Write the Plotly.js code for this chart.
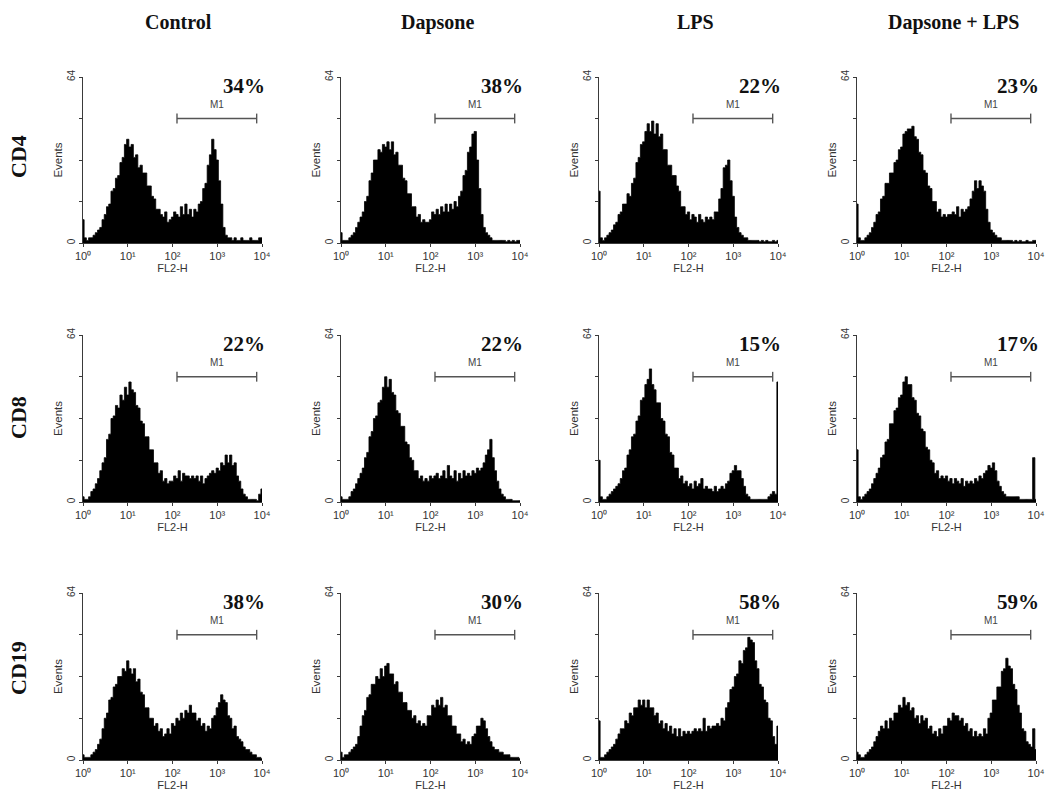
<!DOCTYPE html>
<html>
<head>
<meta charset="utf-8">
<script src="https://cdn.plot.ly/plotly-3.0.1.min.js"></script>
<style>html,body{margin:0;padding:0;background:#fff;}#chart{width:1050px;height:793px;}</style>
</head>
<body>
<div id="chart"></div>
<script>
// ---- data (counts per 0.05-decade channel, from 10^0 to 10^4) ----
const columns = ["Control", "Dapsone", "LPS", "Dapsone + LPS"];
const rowsLbl = ["CD4", "CD8", "CD19"];
const xTickVals = [1, 10, 100, 1000, 10000];
const xTickText = ["10\u2070", "10\u00B9", "10\u00B2", "10\u00B3", "10\u2074"];
const yTickVals = [0, 64];
const yTickText = ["0", "64"];
const yMinorTicks = [16, 32, 48];
const gateM1 = [126, 7600];
const percents = [["34%", "38%", "22%", "23%"], ["22%", "22%", "15%", "17%"], ["38%", "30%", "58%", "59%"]];

const cd4Control = [9,2,1,2,2,3,4,5,6,9, 11,14,15,20,21,25,26,31,33,38, 40,37,38,33,34,29,30,27,27,22, 22,18,17,13,13,11,10,12,8,9, 10,12,11,10,14,11,15,11,13,10, 13,12,15,16,21,23,30,34,40,36, 32,24,15,6,3,2,2,1,2,1, 1,2,1,1,1,2,1,1,1,2, 2];
const cd4Dapsone = [4,1,1,1,2,3,4,6,8,10, 12,16,18,24,27,32,32,36,35,38, 37,39,36,39,34,35,30,30,25,24, 19,19,14,14,10,11,8,9,8,8, 9,12,11,13,11,14,12,15,12,15, 13,16,14,18,20,26,28,35,37,42, 43,32,21,11,6,4,3,2,1,1, 1,1,1,1,0.5,1,0.5,1,0.5,1, 1];
const cd4LPS = [20,2,1,2,3,4,5,7,8,11, 12,15,15,19,18,23,25,31,33,38, 39,43,46,43,47,42,46,41,42,36, 36,30,30,26,26,22,20,14,14,11, 12,9,11,10,8,11,9,8,10,9, 10,9,12,12,17,21,29,30,32,24, 18,10,6,4,3,2,2,1,1,1, 1,1,0.5,1,0.5,1,0.5,0.5,1,0.5, 1];
const cd4DapLPS = [15,2,1,1,2,3,4,6,8,11, 12,17,18,23,23,27,27,31,32,36, 37,42,43,44,44,45,41,40,35,34, 28,27,22,21,16,16,12,13,10,11, 10,11,11,12,11,14,10,13,12,13, 14,17,20,24,21,24,22,20,13,8, 5,4,3,2,2,1,1,1,1,1, 0.5,1,0.5,1,0.5,0.5,1,0.5,0.5,1, 1];

const cd8Control = [2,1,1,2,4,5,7,9,12,15, 17,24,26,32,33,37,36,41,39,44, 41,46,43,42,37,36,31,30,25,25, 20,20,15,15,11,12,8,9,7,8, 8,10,9,12,8,11,10,10,9,10, 9,10,8,10,7,9,10,11,12,11, 13,12,15,14,18,15,18,14,15,10, 8,5,3,2,1,1,1,1,0.5,3, 5];
const cd8Dapsone = [2,1,1,1,2,4,5,7,9,11, 13,17,19,25,27,32,33,38,39,44, 48,44,47,42,41,35,34,29,29,23, 22,17,16,12,12,9,10,8,9,8, 10,9,10,11,9,10,12,9,14,10, 9,12,8,11,9,12,10,11,10,12, 11,13,12,13,15,18,20,24,17,12, 8,5,3,2,1,1,1,0.5,0.5,0.5, 0.5];
const cd8LPS = [16,2,1,1,2,3,4,5,6,7, 9,12,13,18,20,25,26,31,33,39, 40,45,47,51,45,43,38,38,32,31, 26,25,19,18,13,13,9,10,7,8, 6,7,5,8,6,7,9,5,6,5, 5,4,6,4,5,6,5,7,8,11, 12,14,12,12,9,6,3,2,1,1, 1,1,1,1,1,1,2,3,4,3, 46];
const cd8DapLPS = [20,2,1,2,3,4,5,7,9,11, 13,17,18,23,24,30,30,35,36,40, 41,46,48,45,45,40,39,34,33,28, 27,21,20,16,15,11,12,9,10,9, 10,8,9,7,9,8,7,9,6,8, 7,8,7,9,8,10,9,11,12,14, 13,15,12,8,6,4,3,2,2,2, 2,2,2,1,1,1,1,1,1,17, 1];

const cd19Control = [2,1,1,1,2,3,4,6,8,12, 16,18,23,24,28,29,32,32,35,34, 38,35,33,35,30,31,26,25,20,20, 16,16,13,14,11,12,9,10,12,10, 14,13,16,15,18,16,19,18,21,18, 18,15,16,13,14,11,13,12,16,17, 20,22,25,23,22,17,16,12,13,9, 8,7,5,4,4,3,2,2,1,1, 0.5];
const cd19Dapsone = [3,1,2,2,3,4,5,6,9,13, 17,19,24,25,29,29,32,31,35,32, 36,37,33,33,29,30,26,26,22,22, 19,19,16,17,14,15,13,14,13,17, 17,21,20,23,21,24,20,21,17,17, 13,13,10,10,7,8,6,7,6,9, 10,13,13,16,15,12,9,7,5,4, 4,3,3,2,2,2,1,1,1,1, 0.5];
const cd19LPS = [15,1,1,2,3,4,5,6,8,10, 12,12,15,14,18,17,20,20,23,21, 23,20,23,20,20,17,18,14,15,12, 14,11,13,10,12,9,12,9,11,10, 11,10,11,12,11,12,11,16,11,13, 12,13,13,14,13,16,15,20,22,27, 28,32,33,38,37,42,43,47,46,45, 38,35,29,28,23,22,16,15,9,6, 13];
const cd19DapLPS = [3,2,1,1,2,3,4,5,7,9, 11,13,12,15,12,16,15,18,18,21, 20,24,21,22,19,20,16,17,14,17, 15,16,12,13,10,11,9,12,10,13, 13,16,15,18,17,17,15,16,13,14, 11,12,9,11,9,10,9,12,10,16, 18,23,23,28,28,34,35,39,36,35, 29,27,21,18,12,11,7,6,5,12, 4];

const histData = [
  [cd4Control, cd4Dapsone, cd4LPS, cd4DapLPS],
  [cd8Control, cd8Dapsone, cd8LPS, cd8DapLPS],
  [cd19Control, cd19Dapsone, cd19LPS, cd19DapLPS]
];
const channelStep = 0.05;

// ---- layout geometry (pixels) ----
const W = 1050, H = 793;
const colX = [[83, 262], [341, 520], [599, 778], [857, 1036]];
const rowY = [[77, 243], [335, 502], [593, 760]];

const traces = [];
const layout = {
  width: W, height: H,
  margin: {l: 0, r: 0, t: 0, b: 0},
  paper_bgcolor: "#fff", plot_bgcolor: "#fff",
  showlegend: false,
  annotations: [],
  font: {family: "Liberation Sans, Arial, sans-serif", color: "#333"}
};

const sans = "Liberation Sans, Arial, sans-serif";
const serif = "Liberation Serif, Times New Roman, serif";
const axisCol = "#3a3a3a";

let k = 0;
for (let r = 0; r < 3; r++) {
  for (let c = 0; c < 4; c++) {
    k++;
    const xa = k === 1 ? "x" : "x" + k;
    const ya = k === 1 ? "y" : "y" + k;
    const vals = histData[r][c];
    const xs = vals.map((v, i) => Math.pow(10, i * channelStep));
    traces.push({
      type: "scatter", mode: "lines", x: xs, y: vals, xaxis: xa, yaxis: ya,
      line: {shape: "hvh", color: "#000", width: 0.8},
      fill: "tozeroy", fillcolor: "#000", hoverinfo: "skip"
    });
    // M1 gate bar
    traces.push({
      type: "scatter", mode: "lines+markers", x: gateM1, y: [48, 48], xaxis: xa, yaxis: ya,
      line: {color: "#555", width: 1.6},
      marker: {symbol: "line-ns-open", size: 7, color: "#555", line: {width: 1.4, color: "#555"}},
      hoverinfo: "skip", cliponaxis: false
    });
    traces.push({
      type: "scatter", mode: "text", x: [Math.sqrt(gateM1[0] * gateM1[1])], y: [53], text: ["M1"],
      textfont: {family: sans, size: 10, color: "#444"}, xaxis: xa, yaxis: ya, hoverinfo: "skip", cliponaxis: false
    });

    const xd = [colX[c][0] / W, colX[c][1] / W];
    const yd = [1 - rowY[r][1] / H, 1 - rowY[r][0] / H];
    layout["xaxis" + (k === 1 ? "" : k)] = {
      domain: xd, anchor: ya, type: "log", range: [0, 4],
      tickmode: "array", tickvals: xTickVals, ticktext: xTickText, ticks: "outside", ticklen: 3, tickwidth: 1, tickcolor: axisCol,
      showline: true, linecolor: axisCol, linewidth: 1.2, showgrid: false, zeroline: false,
      tickfont: {family: sans, size: 11, color: "#333"},
      title: {text: "FL2-H", font: {family: sans, size: 11, color: "#333"}, standoff: 2}
    };
    layout["yaxis" + (k === 1 ? "" : k)] = {
      domain: yd, anchor: xa, range: [0, 64],
      tickmode: "array", tickvals: yTickVals, ticktext: yTickText, tickangle: -90, ticks: "outside", ticklen: 3, tickwidth: 1, tickcolor: axisCol,
      minor: {tickmode: "array", tickvals: yMinorTicks, ticks: "outside", ticklen: 3, tickwidth: 1, tickcolor: axisCol, showgrid: false},
      showline: true, linecolor: axisCol, linewidth: 1.4, showgrid: false, zeroline: false,
      tickfont: {family: sans, size: 10, color: "#333"},
      title: {text: "Events", font: {family: sans, size: 11.5, color: "#333"}, standoff: 0}
    };
    // percentage label
    layout.annotations.push({
      xref: "paper", yref: "paper", x: (colX[c][1] + 5) / W, y: 1 - (rowY[r][0] + 9) / H,
      xanchor: "right", yanchor: "middle", showarrow: false, text: "<b>" + percents[r][c] + "</b>",
      font: {family: serif, size: 21, color: "#111"}
    });
  }
}
// column titles
const colCenters = [178, 437, 695, 953];
columns.forEach((t, i) => layout.annotations.push({
  xref: "paper", yref: "paper", x: colCenters[i] / W, y: 1 - 22 / H, xanchor: "center", yanchor: "middle",
  showarrow: false, text: "<b>" + t + "</b>", font: {family: serif, size: 20, color: "#111"}
}));
// row labels
const rowCenters = [157, 418, 668];
rowsLbl.forEach((t, i) => layout.annotations.push({
  xref: "paper", yref: "paper", x: 18 / W, y: 1 - rowCenters[i] / H, xanchor: "center", yanchor: "middle",
  showarrow: false, textangle: -90, text: "<b>" + t + "</b>", font: {family: serif, size: 22, color: "#111"}
}));

Plotly.newPlot("chart", traces, layout, {staticPlot: true, displayModeBar: false});
</script>
</body>
</html>
